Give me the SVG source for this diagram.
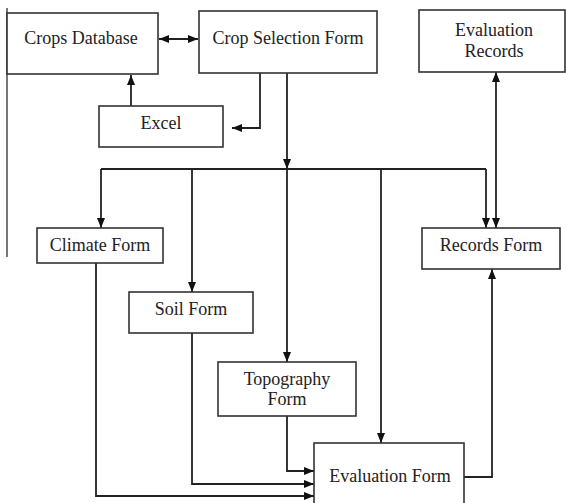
<svg xmlns="http://www.w3.org/2000/svg" width="566" height="503" viewBox="0 0 566 503">
<defs>
<marker id="ah" viewBox="0 0 10 8" refX="10" refY="4" markerWidth="10" markerHeight="8" markerUnits="userSpaceOnUse" orient="auto-start-reverse">
<path d="M0,0 L10,4 L0,8 z" fill="#111"/>
</marker>
<style>
.box{fill:#fff;stroke:#333;stroke-width:1.6}
.lbl{font-family:"Liberation Serif","Times New Roman",serif;font-size:18px;fill:#222;text-anchor:middle}
.c{fill:none;stroke:#222;stroke-width:1.8}
.a{marker-end:url(#ah)}
.b{marker-start:url(#ah);marker-end:url(#ah)}
</style>
</defs>
<rect width="566" height="503" fill="#fff"/>
<line x1="7" y1="8" x2="7" y2="257" stroke="#777" stroke-width="2"/>
<g id="connectors">
<path class="c b" d="M159 39 H198"/>
<path class="c a" d="M131 106 V75"/>
<path class="c a" d="M260 73 V128 H232"/>
<path class="c a" d="M287 73 V169"/>
<path class="c" d="M101 169 H486"/>
<path class="c a" d="M101 169 V228"/>
<path class="c a" d="M192 169 V292"/>
<path class="c a" d="M287 169 V362"/>
<path class="c a" d="M381 169 V443"/>
<path class="c a" d="M486 169 V228"/>
<path class="c b" d="M496 72 V228"/>
<path class="c a" d="M96 263 V496 H314"/>
<path class="c a" d="M192 333 V484 H314"/>
<path class="c a" d="M287 416 V471 H314"/>
<path class="c a" d="M464 477 H492 V269"/>
</g>
<g id="crops-database">
<rect class="box" x="7" y="13" width="151" height="61"/>
<text class="lbl" x="81" y="44">Crops Database</text>
</g>
<g id="crop-selection-form">
<rect class="box" x="199" y="11" width="178" height="62"/>
<text class="lbl" x="288" y="44">Crop Selection Form</text>
</g>
<g id="evaluation-records">
<rect class="box" x="419" y="10" width="146" height="62"/>
<text class="lbl" x="494" y="36">Evaluation</text>
<text class="lbl" x="494" y="57">Records</text>
</g>
<g id="excel">
<rect class="box" x="99" y="106" width="124" height="41"/>
<text class="lbl" x="161" y="129">Excel</text>
</g>
<g id="climate-form">
<rect class="box" x="37" y="228" width="126" height="35"/>
<text class="lbl" x="100" y="251">Climate Form</text>
</g>
<g id="records-form">
<rect class="box" x="422" y="228" width="138" height="41"/>
<text class="lbl" x="491" y="251">Records Form</text>
</g>
<g id="soil-form">
<rect class="box" x="129" y="292" width="124" height="41"/>
<text class="lbl" x="191" y="315">Soil Form</text>
</g>
<g id="topography-form">
<rect class="box" x="218" y="362" width="138" height="54"/>
<text class="lbl" x="287" y="385">Topography</text>
<text class="lbl" x="287" y="405">Form</text>
</g>
<g id="evaluation-form">
<rect class="box" x="314" y="443" width="150" height="70"/>
<text class="lbl" x="390" y="482">Evaluation Form</text>
</g>
</svg>
